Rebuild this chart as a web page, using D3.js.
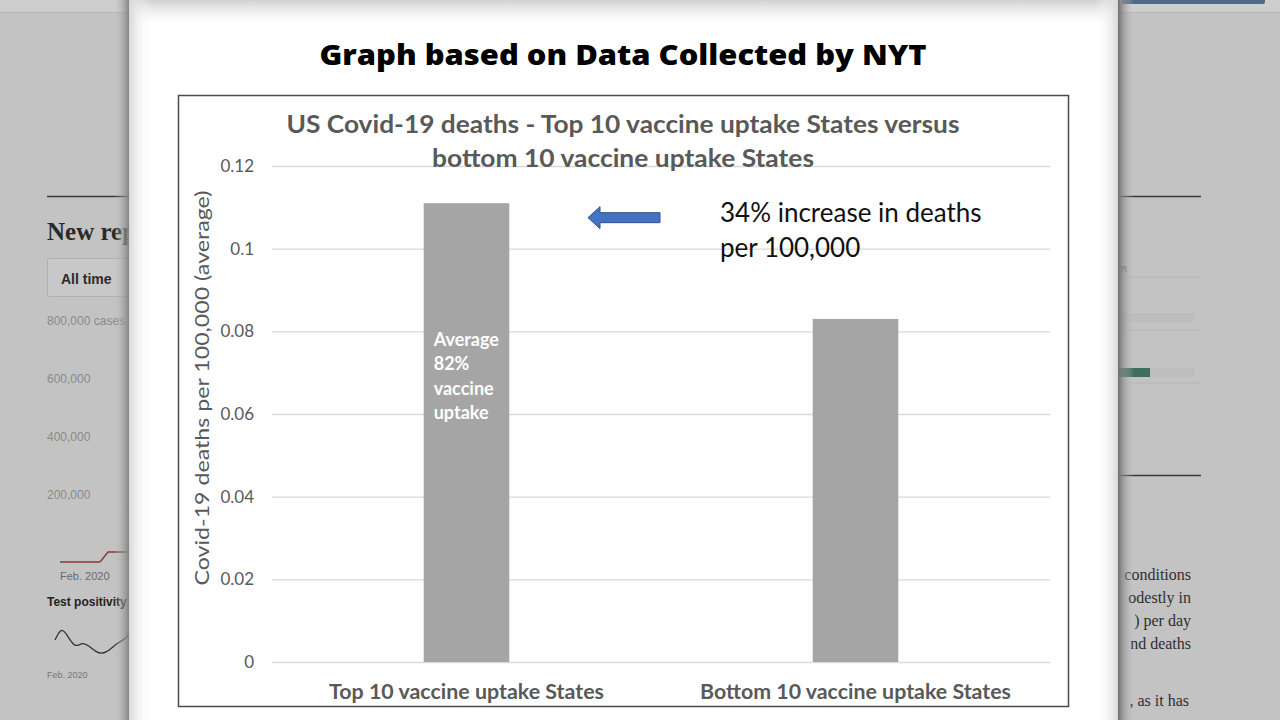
<!DOCTYPE html>
<html>
<head>
<meta charset="utf-8">
<script src="https://cdn.jsdelivr.net/npm/d3@7"></script>
<style>
  body { margin: 0; background: #c3c3c3; }
  svg { display: block; }
  .tick text { font-family: Lato, sans-serif; }
</style>
</head>
<body>
<script>
// chart data
var categories = ["Top 10 vaccine uptake States", "Bottom 10 vaccine uptake States"];
var deaths = [0.111, 0.083];
var yTicks = [0, 0.02, 0.04, 0.06, 0.08, 0.1, 0.12];
var barNote = ["Average", "82%", "vaccine", "uptake"];
var noteLines = ["34% increase in deaths", "per 100,000"];

// background page (blurred NYT page behind the slide)
var bgTicks = ["800,000 cases", "600,000", "400,000", "200,000"];
var bgRightText = ["conditions", "odestly in", ") per day", "nd deaths"];
var positivity = [0.55, 0.9, 0.6, 0.35, 0.5, 0.4, 0.25, 0.2, 0.3, 0.45, 0.55, 0.7];

var W = 1280, H = 720;

var svg = d3.select("body").append("svg")
    .attr("width", W)
    .attr("height", H);

var defs = svg.append("defs");
var sh = defs.append("linearGradient").attr("id", "shadowR");
sh.append("stop").attr("offset", "0%").attr("stop-color", "#6e6e6e");
sh.append("stop").attr("offset", "100%").attr("stop-color", "#c3c3c3").attr("stop-opacity", 0);
var shl = defs.append("linearGradient").attr("id", "shadowL").attr("x1", 1).attr("x2", 0);
shl.append("stop").attr("offset", "0%").attr("stop-color", "#7a7a7a");
shl.append("stop").attr("offset", "100%").attr("stop-color", "#c3c3c3").attr("stop-opacity", 0);
var inL = defs.append("linearGradient").attr("id", "innerL");
inL.append("stop").attr("offset", "0%").attr("stop-color", "#d8d8d8");
inL.append("stop").attr("offset", "100%").attr("stop-color", "#ffffff").attr("stop-opacity", 0);
var inR = defs.append("linearGradient").attr("id", "innerR").attr("x1", 1).attr("x2", 0);
inR.append("stop").attr("offset", "0%").attr("stop-color", "#d8d8d8");
inR.append("stop").attr("offset", "100%").attr("stop-color", "#ffffff").attr("stop-opacity", 0);
var inT = defs.append("linearGradient").attr("id", "innerT").attr("x1", 0).attr("x2", 0).attr("y1", 0).attr("y2", 1);
inT.append("stop").attr("offset", "0%").attr("stop-color", "#d0d0d0");
inT.append("stop").attr("offset", "100%").attr("stop-color", "#ffffff").attr("stop-opacity", 0);

// ---- background ----
var bg = svg.append("g");
bg.append("rect").attr("width", W).attr("height", 12).attr("fill", "#cecece");
bg.append("line").attr("x1", 0).attr("x2", W).attr("y1", 12.5).attr("y2", 12.5).attr("stroke", "#b5b5b5");
bg.append("rect").attr("x", 1122).attr("y", -4).attr("width", 143).attr("height", 8).attr("rx", 2).attr("fill", "#4f6a88");

bg.append("line").attr("x1", 47).attr("x2", 135).attr("y1", 196.5).attr("y2", 196.5).attr("stroke", "#3a3a3a").attr("stroke-width", 1.5);
bg.append("text").attr("x", 47).attr("y", 240).text("New reports")
    .attr("font-family", "Liberation Serif, serif").attr("font-weight", "bold").attr("font-size", 25).attr("fill", "#2a2a2a");
bg.append("rect").attr("x", 47.5).attr("y", 258.5).attr("width", 100).attr("height", 38).attr("rx", 2)
    .attr("fill", "#c8c8c8").attr("stroke", "#b0b0b0");
bg.append("text").attr("x", 61).attr("y", 284).text("All time")
    .attr("font-family", "Liberation Sans, sans-serif").attr("font-weight", "bold").attr("font-size", 14).attr("fill", "#2b2b2b");

var bgY = d3.scalePoint().domain(bgTicks).range([325, 499]);
bg.selectAll(".bgtick").data(bgTicks).enter().append("text")
    .attr("x", 47).attr("y", function(d) { return bgY(d); })
    .text(function(d) { return d; })
    .attr("font-family", "Liberation Sans, sans-serif").attr("font-size", 12).attr("fill", "#8a8a8a");
bg.append("line").attr("x1", 60).attr("x2", 100).attr("y1", 562).attr("y2", 562).attr("stroke", "#8a3a3a").attr("stroke-width", 1.5);
bg.append("path").attr("d", "M100,562 L108,552 L135,552").attr("fill", "none").attr("stroke", "#8a3a3a").attr("stroke-width", 1.5);
bg.append("text").attr("x", 60).attr("y", 580).text("Feb. 2020")
    .attr("font-family", "Liberation Sans, sans-serif").attr("font-size", 11).attr("fill", "#6a6a6a");
bg.append("text").attr("x", 47).attr("y", 606).text("Test positivity")
    .attr("font-family", "Liberation Sans, sans-serif").attr("font-weight", "bold").attr("font-size", 12).attr("fill", "#222");
var px = d3.scaleLinear().domain([0, positivity.length - 1]).range([55, 130]);
var py = d3.scaleLinear().domain([0, 1]).range([662, 622]);
bg.append("path").datum(positivity)
    .attr("d", d3.line().x(function(d, i) { return px(i); }).y(function(d) { return py(d); }).curve(d3.curveBasis))
    .attr("fill", "none").attr("stroke", "#333").attr("stroke-width", 1.3);
bg.append("text").attr("x", 47).attr("y", 678).text("Feb. 2020")
    .attr("font-family", "Liberation Sans, sans-serif").attr("font-size", 9).attr("fill", "#777");

bg.append("line").attr("x1", 1110).attr("x2", 1201).attr("y1", 196.5).attr("y2", 196.5).attr("stroke", "#3a3a3a").attr("stroke-width", 1.5);
bg.append("text").attr("x", 1090).attr("y", 272).text("MASTER")
    .attr("font-family", "Liberation Sans, sans-serif").attr("font-size", 9).attr("fill", "#666");
[277, 330, 383].forEach(function(y) {
  bg.append("line").attr("x1", 1110).attr("x2", 1201).attr("y1", y).attr("y2", y).attr("stroke", "#b6b6b6");
});
bg.append("rect").attr("x", 1110).attr("y", 313).attr("width", 84).attr("height", 9).attr("fill", "#bdbdbd");
bg.append("rect").attr("x", 1110).attr("y", 368).attr("width", 84).attr("height", 9).attr("fill", "#bdbdbd");
bg.append("rect").attr("x", 1110).attr("y", 368).attr("width", 40).attr("height", 9).attr("fill", "#3f6e5c");
bg.append("line").attr("x1", 1110).attr("x2", 1201).attr("y1", 475.5).attr("y2", 475.5).attr("stroke", "#3a3a3a").attr("stroke-width", 1.5);
bg.selectAll(".bgr").data(bgRightText).enter().append("text")
    .attr("x", 1191).attr("y", function(d, i) { return 580 + i * 23; })
    .attr("text-anchor", "end")
    .text(function(d) { return d; })
    .attr("font-family", "Liberation Serif, serif").attr("font-size", 16).attr("fill", "#2f2f2f");
bg.append("text").attr("x", 1189).attr("y", 706).attr("text-anchor", "end").text(", as it has")
    .attr("font-family", "Liberation Serif, serif").attr("font-size", 16).attr("fill", "#2f2f2f");

// ---- slide panel ----
svg.append("rect").attr("x", 1118).attr("y", 0).attr("width", 16).attr("height", H).attr("fill", "url(#shadowR)");
svg.append("rect").attr("x", 114).attr("y", 0).attr("width", 16).attr("height", H).attr("fill", "url(#shadowL)");
svg.append("rect").attr("x", 129).attr("y", 0).attr("width", 989).attr("height", H).attr("fill", "#ffffff");
svg.append("rect").attr("x", 129).attr("y", 0).attr("width", 989).attr("height", 28).attr("fill", "url(#innerT)");
svg.append("rect").attr("x", 129).attr("y", 0).attr("width", 22).attr("height", H).attr("fill", "url(#innerL)");
svg.append("rect").attr("x", 1096).attr("y", 0).attr("width", 22).attr("height", H).attr("fill", "url(#innerR)");

svg.append("text")
    .attr("x", 623).attr("y", 65)
    .attr("text-anchor", "middle")
    .attr("font-family", "Open Sans, sans-serif")
    .attr("font-weight", 800)
    .attr("font-size", 29)
    .attr("textLength", 607)
    .attr("lengthAdjust", "spacingAndGlyphs")
    .attr("fill", "#000")
    .text("Graph based on Data Collected by NYT");

// chart frame
svg.append("rect").attr("x", 178.5).attr("y", 95.5).attr("width", 890).attr("height", 611)
    .attr("fill", "#fff").attr("stroke", "#4a4a4a").attr("stroke-width", 1.5);

var x = d3.scaleBand()
    .domain(categories)
    .range([272, 1050])
    .paddingInner(0.78)
    .paddingOuter(0.39);

var y = d3.scaleLinear()
    .domain([0, 0.12])
    .range([662, 166]);

var g = svg.append("g");

g.append("g")
    .attr("transform", "translate(272,0)")
    .call(d3.axisLeft(y).tickValues(yTicks).tickSize(-778).tickPadding(18)
        .tickFormat(function(d) { return d === 0 ? "0" : String(+d.toFixed(2)); }))
    .call(function(a) {
      a.select(".domain").remove();
      a.selectAll(".tick line").attr("stroke", "#d9d9d9").attr("stroke-width", 1.3);
      a.selectAll(".tick text").attr("fill", "#595959").attr("font-size", 17);
    });

// chart title
var title = ["US Covid-19 deaths - Top 10 vaccine uptake States versus", "bottom 10 vaccine uptake States"];
var titleLen = [673, 382];
g.selectAll(".ctitle").data(title).enter().append("text")
    .attr("x", 623).attr("y", function(d, i) { return 133 + i * 34; })
    .attr("text-anchor", "middle")
    .attr("font-family", "Lato, sans-serif").attr("font-weight", "bold").attr("font-size", 25)
    .attr("textLength", function(d, i) { return titleLen[i]; })
    .attr("lengthAdjust", "spacingAndGlyphs")
    .attr("fill", "#595959")
    .text(function(d) { return d; });

g.selectAll(".bar").data(deaths).enter().append("rect")
    .attr("x", function(d, i) { return x(categories[i]); })
    .attr("y", function(d) { return y(d); })
    .attr("width", x.bandwidth())
    .attr("height", function(d) { return y(0) - y(d); })
    .attr("fill", "#a5a5a5");

var xLabLen = [275, 311];
g.selectAll(".xlab").data(categories).enter().append("text")
    .attr("x", function(d) { return x(d) + x.bandwidth() / 2; })
    .attr("y", 699)
    .attr("text-anchor", "middle")
    .attr("font-family", "Lato, sans-serif").attr("font-weight", "bold").attr("font-size", 20)
    .attr("textLength", function(d, i) { return xLabLen[i]; })
    .attr("lengthAdjust", "spacingAndGlyphs")
    .attr("fill", "#595959")
    .text(function(d) { return d; });

g.append("text")
    .attr("transform", "translate(209,388) rotate(-90)")
    .attr("text-anchor", "middle")
    .attr("font-family", "Lato, sans-serif").attr("font-size", 20)
    .attr("textLength", 395)
    .attr("lengthAdjust", "spacingAndGlyphs")
    .attr("fill", "#595959")
    .text("Covid-19 deaths per 100,000 (average)");

// label inside first bar
g.selectAll(".note").data(barNote).enter().append("text")
    .attr("x", x(categories[0]) + 10)
    .attr("y", function(d, i) { return y(0.0765) + i * 24.5; })
    .attr("font-family", "Lato, sans-serif").attr("font-weight", "bold").attr("font-size", 18)
    .attr("fill", "#ffffff")
    .text(function(d) { return d; });

// arrow pointing back to the taller bar
var ay = y(0.1075);
g.append("path")
    .attr("d", "M588," + ay + " L600," + (ay - 11) + " L600," + (ay - 5) + " L660," + (ay - 5) +
               " L660," + (ay + 5) + " L600," + (ay + 5) + " L600," + (ay + 11) + " Z")
    .attr("fill", "#4472c4").attr("stroke", "#2f528f").attr("stroke-width", 1);

g.selectAll(".ann").data(noteLines).enter().append("text")
    .attr("x", 720)
    .attr("y", function(d, i) { return 222 + i * 35; })
    .attr("font-family", "Lato, sans-serif").attr("font-size", 26)
    .attr("fill", "#111")
    .text(function(d) { return d; });
</script>
</body>
</html>
